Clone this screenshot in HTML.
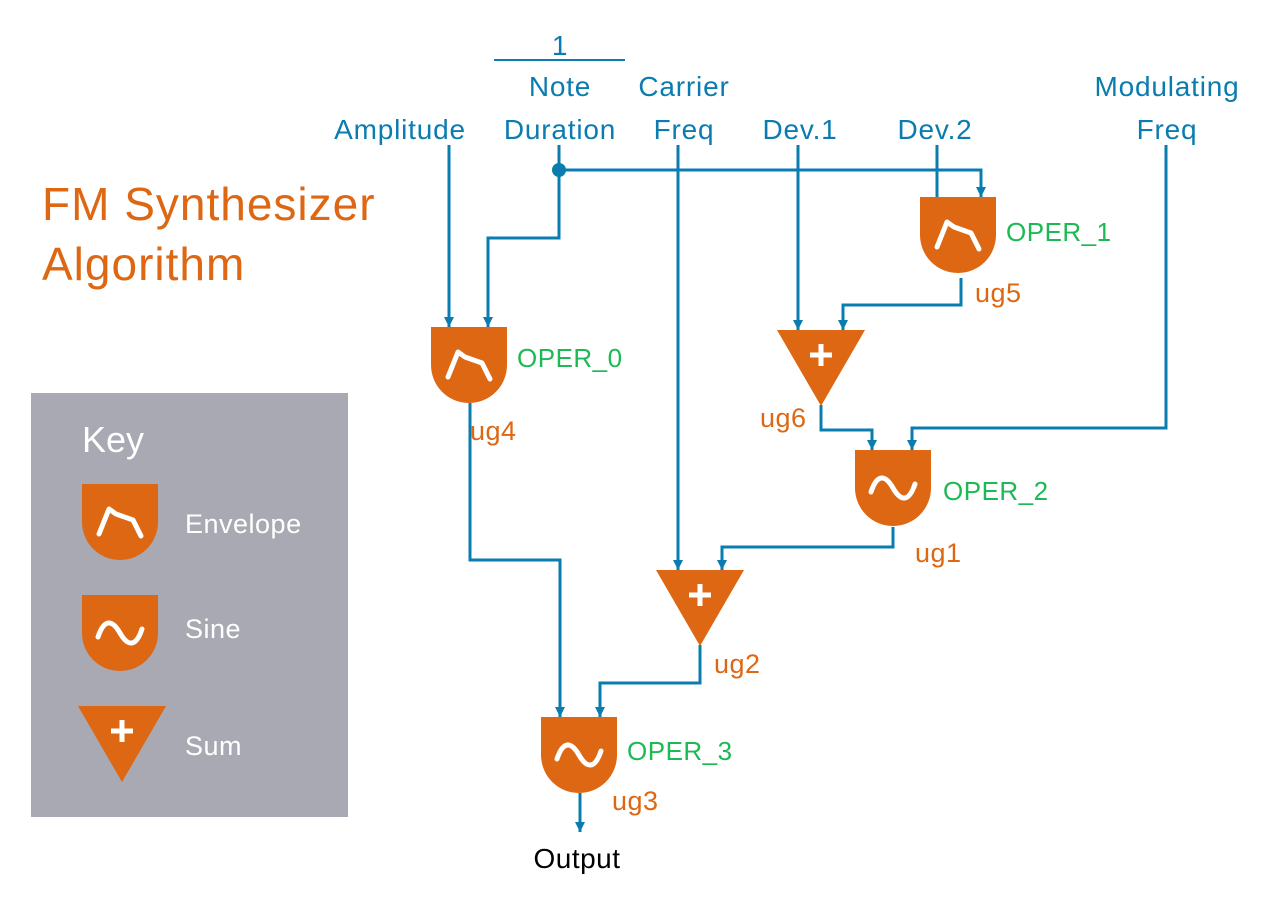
<!DOCTYPE html>
<html><head><style>body{margin:0;background:#fff}</style></head><body>
<svg width="1267" height="900" viewBox="0 0 1267 900" xmlns="http://www.w3.org/2000/svg" font-family="Liberation Sans, sans-serif">
<defs>
<marker id="a" markerWidth="12" markerHeight="12" refX="10" refY="5" orient="auto" markerUnits="userSpaceOnUse"><path d="M0,0 L10,5 L0,10 z" fill="#0a7cb0"/></marker>
<g id="env"><path d="M0,0 H76 V38 A38,38 0 0 1 0,38 Z" fill="#dd6712"/><polyline points="17,50 27,25 34,30 51,36 59,52" fill="none" stroke="#fff" stroke-width="5" stroke-linejoin="round" stroke-linecap="round"/></g>
<g id="sin"><path d="M0,0 H76 V38 A38,38 0 0 1 0,38 Z" fill="#dd6712"/><path d="M16,42 C22,24 30,24 38,38 C46,52 54,52 60,34" fill="none" stroke="#fff" stroke-width="5" stroke-linecap="round"/></g>
<g id="sum"><path d="M0,0 H88 L44,76 Z" fill="#dd6712"/><path d="M44,14 V36 M33,25 H55" stroke="#fff" stroke-width="5"/></g>
</defs>
<rect x="31" y="393" width="317" height="424" fill="#a9a9b4"/>
<text x="82" y="452" font-size="36" fill="#fff">Key</text>
<use href="#env" x="82" y="484"/>
<text x="185" y="533" font-size="27" fill="#fff" letter-spacing="0.5">Envelope</text>
<use href="#sin" x="82" y="595"/>
<text x="185" y="638" font-size="27" fill="#fff" letter-spacing="0.5">Sine</text>
<use href="#sum" x="78" y="706"/>
<text x="185" y="755" font-size="27" fill="#fff" letter-spacing="0.5">Sum</text>
<text x="42" y="220" font-size="46" fill="#dd6712" letter-spacing="1">FM Synthesizer</text>
<text x="42" y="280" font-size="46" fill="#dd6712" letter-spacing="1">Algorithm</text>
<g font-size="28" fill="#0a7cb0" text-anchor="middle" letter-spacing="0.8">
<text x="400" y="139">Amplitude</text>
<text x="560" y="55">1</text>
<text x="560" y="96">Note</text>
<text x="560" y="139">Duration</text>
<text x="684" y="96">Carrier</text>
<text x="684" y="139">Freq</text>
<text x="800" y="139">Dev.1</text>
<text x="935" y="139">Dev.2</text>
<text x="1167" y="96">Modulating</text>
<text x="1167" y="139">Freq</text>
</g>
<line x1="494" y1="60" x2="625" y2="60" stroke="#0a7cb0" stroke-width="2"/>
<g fill="none" stroke="#0a7cb0" stroke-width="3">
<polyline points="449,145 449,327" marker-end="url(#a)"/>
<polyline points="559,145 559,238 488,238 488,327" marker-end="url(#a)"/>
<polyline points="559,170 981,170 981,197" marker-end="url(#a)"/>
<polyline points="937,145 937,197"/>
<polyline points="961,278 961,305 843,305 843,330" marker-end="url(#a)"/>
<polyline points="798,145 798,330" marker-end="url(#a)"/>
<polyline points="821,405 821,430 872,430 872,450" marker-end="url(#a)"/>
<polyline points="1166,145 1166,428 912,428 912,450" marker-end="url(#a)"/>
<polyline points="893,527 893,547 722,547 722,570" marker-end="url(#a)"/>
<polyline points="678,145 678,570" marker-end="url(#a)"/>
<polyline points="700,645 700,683 600,683 600,717" marker-end="url(#a)"/>
<polyline points="470,403 470,560 560,560 560,717" marker-end="url(#a)"/>
<polyline points="580,793 580,832" marker-end="url(#a)"/>
</g>
<circle cx="559" cy="170" r="7" fill="#0a7cb0"/>
<use href="#env" x="431" y="327"/>
<use href="#env" x="920" y="197"/>
<use href="#sum" x="777" y="330"/>
<use href="#sin" x="855" y="450"/>
<use href="#sum" x="656" y="570"/>
<use href="#sin" x="541" y="717"/>
<g font-size="26" fill="#1db954" letter-spacing="0.5">
<text x="517" y="367">OPER_0</text>
<text x="1006" y="241">OPER_1</text>
<text x="943" y="500">OPER_2</text>
<text x="627" y="760">OPER_3</text>
</g>
<g font-size="27" fill="#dd6712" letter-spacing="0.5">
<text x="470" y="440">ug4</text>
<text x="975" y="302">ug5</text>
<text x="760" y="427">ug6</text>
<text x="915" y="562">ug1</text>
<text x="714" y="673">ug2</text>
<text x="612" y="810">ug3</text>
</g>
<text x="577" y="868" font-size="28" fill="#000" text-anchor="middle" letter-spacing="0.5">Output</text>
</svg>
</body></html>
